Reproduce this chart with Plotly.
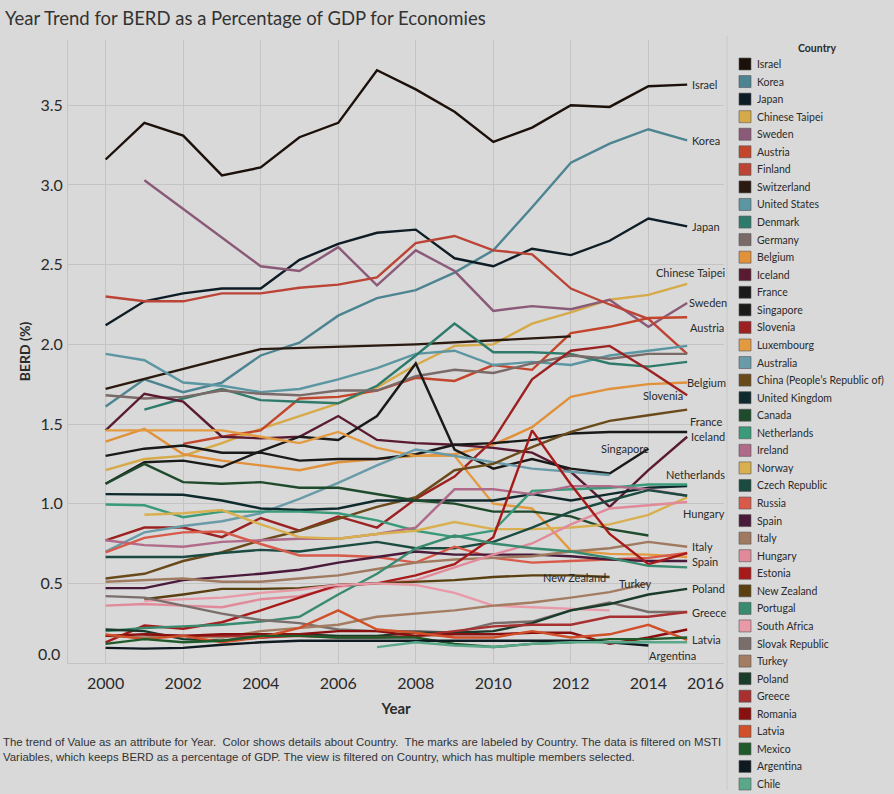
import plotly.graph_objects as go

N = None
years = list(range(2000, 2016))

israel      = [3.16, 3.39, 3.31, 3.06, 3.11, 3.30, 3.39, 3.72, 3.60, 3.46, 3.27, 3.36, 3.50, 3.49, 3.62, 3.63]
korea       = [1.61, 1.78, 1.70, 1.76, 1.93, 2.01, 2.18, 2.29, 2.34, 2.45, 2.59, 2.86, 3.14, 3.26, 3.35, 3.28]
japan       = [2.12, 2.27, 2.32, 2.35, 2.35, 2.53, 2.63, 2.70, 2.72, 2.54, 2.49, 2.60, 2.56, 2.65, 2.79, 2.74]
taipei      = [1.21, 1.28, 1.30, 1.38, 1.47, 1.55, 1.63, 1.73, 1.87, 1.99, 2.00, 2.13, 2.20, 2.28, 2.31, 2.38]
sweden      = [N, 3.03, 2.85, 2.67, 2.49, 2.46, 2.61, 2.37, 2.59, 2.46, 2.21, 2.24, 2.22, 2.28, 2.11, 2.26]
austria     = [N, N, 1.375, 1.42, 1.46, 1.66, 1.67, 1.71, 1.79, 1.77, 1.87, 1.84, 2.07, 2.11, 2.165, 2.17]
finland     = [2.30, 2.27, 2.27, 2.32, 2.32, 2.355, 2.375, 2.42, 2.635, 2.68, 2.59, 2.565, 2.35, 2.25, 2.16, 1.94]
switzerland = [1.72, N, N, N, 1.97, N, N, N, 2.00, N, N, N, 2.05, N, N, N]
usa         = [1.94, 1.90, 1.76, 1.74, 1.70, 1.72, 1.78, 1.85, 1.94, 1.96, 1.87, 1.89, 1.87, 1.93, 1.96, 1.99]
denmark     = [N, 1.59, 1.66, 1.72, 1.65, 1.64, 1.63, 1.74, 1.93, 2.13, 1.95, 1.95, 1.94, 1.88, 1.86, 1.89]
germany     = [1.68, 1.66, 1.67, 1.71, 1.69, 1.68, 1.71, 1.71, 1.80, 1.84, 1.82, 1.88, 1.93, 1.91, 1.94, 1.94]
belgium     = [1.39, 1.47, 1.31, 1.27, 1.24, 1.21, 1.26, 1.28, 1.30, 1.31, 1.37, 1.48, 1.67, 1.72, 1.75, 1.76]
iceland     = [1.46, 1.69, 1.64, 1.42, 1.41, 1.42, 1.55, 1.40, 1.38, 1.37, 1.35, 1.32, 1.20, 0.98, 1.21, 1.42]
france      = [1.30, 1.345, 1.365, 1.32, 1.32, 1.27, 1.28, 1.28, 1.31, 1.37, 1.38, 1.40, 1.44, 1.45, 1.45, 1.45]
singapore   = [1.125, 1.26, 1.27, 1.23, 1.33, 1.42, 1.40, 1.55, 1.88, 1.34, 1.22, 1.28, 1.22, 1.19, 1.345, N]
slovenia    = [0.77, 0.85, 0.85, 0.79, 0.91, 0.83, 0.92, 0.85, 1.03, 1.17, 1.40, 1.78, 1.96, 1.99, 1.84, 1.68]
luxembourg  = [1.46, 1.46, 1.46, 1.46, 1.42, 1.38, 1.45, 1.35, 1.30, 1.30, 1.00, 0.97, 0.705, 0.685, 0.68, 0.665]
australia   = [0.70, 0.82, 0.86, 0.89, 0.94, 1.03, 1.13, 1.24, 1.34, 1.30, 1.26, 1.22, 1.20, 1.18, N, N]
china       = [0.53, 0.56, 0.64, 0.695, 0.77, 0.83, 0.905, 0.98, 1.04, 1.21, 1.25, 1.355, 1.45, 1.52, 1.555, 1.59]
uk          = [1.06, 1.06, 1.056, 1.02, 0.97, 0.96, 0.97, 1.02, 1.02, 1.02, 1.02, 1.06, 1.02, 1.06, 1.10, 1.11]
canada      = [1.125, 1.25, 1.135, 1.125, 1.135, 1.10, 1.10, 1.06, 1.02, 1.00, 0.95, 0.95, 0.92, 0.84, 0.80, N]
netherlands = [0.995, 0.99, 0.915, 0.95, 0.95, 0.95, 0.94, 0.895, 0.83, 0.79, 0.83, 1.08, 1.09, 1.10, 1.12, 1.12]
ireland     = [0.77, 0.74, 0.73, 0.76, 0.77, 0.78, 0.78, 0.81, 0.85, 1.09, 1.09, 1.06, 1.11, 1.11, 1.09, 1.05]
norway      = [N, 0.93, 0.94, 0.96, 0.87, 0.79, 0.78, 0.81, 0.83, 0.885, 0.84, 0.84, 0.85, 0.87, 0.93, 1.04]
czech       = [0.665, 0.665, 0.665, 0.69, 0.71, 0.70, 0.73, 0.76, 0.72, 0.72, 0.76, 0.85, 0.95, 1.02, 1.085, 1.05]
russia      = [0.695, 0.785, 0.82, 0.825, 0.747, 0.675, 0.675, 0.665, 0.63, 0.73, 0.66, 0.63, 0.64, 0.65, 0.66, 0.69]
spain       = [0.47, 0.47, 0.52, 0.54, 0.56, 0.585, 0.63, 0.665, 0.70, 0.68, 0.68, 0.68, 0.67, 0.65, 0.64, 0.64]
italy       = [0.51, 0.52, 0.53, 0.51, 0.51, 0.53, 0.55, 0.59, 0.63, 0.65, 0.66, 0.67, 0.70, 0.72, 0.76, 0.73]
hungary     = [0.36, 0.37, 0.36, 0.35, 0.40, 0.42, 0.48, 0.50, 0.52, 0.60, 0.68, 0.75, 0.87, 0.97, 0.99, 1.01]
estonia     = [0.13, 0.235, 0.215, 0.256, 0.33, 0.41, 0.49, 0.50, 0.55, 0.62, 0.79, 1.46, 1.12, 0.81, 0.62, 0.69]
new_zealand = [N, 0.40, 0.43, 0.465, 0.465, 0.47, 0.49, 0.50, 0.51, 0.52, 0.54, 0.55, 0.55, 0.54, N, N]
portugal    = [0.20, 0.22, 0.23, 0.24, 0.26, 0.29, 0.43, 0.56, 0.72, 0.80, 0.75, 0.72, 0.70, 0.66, 0.61, 0.60]
south_africa= [N, 0.39, 0.40, 0.41, 0.44, 0.46, 0.49, 0.50, 0.49, 0.44, 0.36, 0.35, 0.34, 0.33, N, N]
slovakia    = [0.42, 0.41, 0.36, 0.31, 0.27, 0.25, 0.21, 0.20, 0.20, 0.19, 0.25, 0.26, 0.33, 0.38, 0.32, 0.32]
turkey      = [0.17, 0.16, 0.17, 0.16, 0.20, 0.22, 0.24, 0.29, 0.31, 0.33, 0.36, 0.38, 0.41, 0.445, 0.50, N]
poland      = [0.21, 0.20, 0.15, 0.14, 0.16, 0.18, 0.17, 0.17, 0.19, 0.19, 0.20, 0.25, 0.33, 0.37, 0.43, 0.465]
greece      = [N, 0.18, 0.17, 0.17, 0.16, 0.17, 0.16, 0.16, 0.17, 0.20, 0.23, 0.24, 0.24, 0.29, 0.29, 0.32]
romania     = [0.17, 0.18, 0.17, 0.18, 0.18, 0.18, 0.20, 0.20, 0.17, 0.18, 0.18, 0.19, 0.19, 0.12, 0.16, 0.21]
latvia      = [0.18, 0.15, 0.17, 0.13, 0.16, 0.22, 0.33, 0.21, 0.19, 0.16, 0.16, 0.20, 0.16, 0.18, 0.24, 0.145]
mexico      = [0.12, 0.15, 0.13, 0.14, 0.17, 0.17, 0.16, 0.16, 0.16, 0.12, 0.10, 0.12, 0.13, 0.15, 0.15, 0.16]
argentina   = [0.095, 0.09, 0.095, 0.115, 0.13, 0.14, 0.14, 0.14, 0.14, 0.14, 0.14, 0.14, 0.14, 0.13, 0.11, N]
chile       = [N, N, N, N, N, N, N, 0.10, 0.13, 0.11, 0.10, 0.12, 0.13, 0.13, 0.13, 0.13]

countries = ["Israel", "Korea", "Japan", "Chinese Taipei", "Sweden", "Austria", "Finland",
             "Switzerland", "United States", "Denmark", "Germany", "Belgium", "Iceland", "France",
             "Singapore", "Slovenia", "Luxembourg", "Australia", "China (People\u2019s Republic of)",
             "United Kingdom", "Canada", "Netherlands", "Ireland", "Norway", "Czech Republic",
             "Russia", "Spain", "Italy", "Hungary", "Estonia", "New Zealand", "Portugal",
             "South Africa", "Slovak Republic", "Turkey", "Poland", "Greece", "Romania", "Latvia",
             "Mexico", "Argentina", "Chile"]
series = [israel, korea, japan, taipei, sweden, austria, finland, switzerland, usa, denmark,
          germany, belgium, iceland, france, singapore, slovenia, luxembourg, australia, china,
          uk, canada, netherlands, ireland, norway, czech, russia, spain, italy, hungary, estonia,
          new_zealand, portugal, south_africa, slovakia, turkey, poland, greece, romania, latvia,
          mexico, argentina, chile]
colors = ["#1c100b", "#4d8491", "#0e1c26", "#d6aa48", "#8a5a78", "#c2452c", "#bb4436",
          "#2a1a10", "#5b96a2", "#2f7b6b", "#7a6a68", "#e0913a", "#5a1b32", "#191919",
          "#1a1a18", "#9c2222", "#e49a40", "#6a9ba8", "#6a4a1a", "#0f2a2c", "#1f4a2c",
          "#3a9a7a", "#b06a8a", "#d8b050", "#1b4a40", "#d85a4a", "#4a1a3a", "#a07a60",
          "#e08a9a", "#a81a1a", "#5a4010", "#3a8a70", "#e89aa8", "#7a6e6a", "#a47c62",
          "#1a3a2a", "#a83030", "#8a1010", "#d0502a", "#1f5a2a", "#0f1a20", "#5aa88a"]

# end-of-line labels: country -> (xanchor, xshift, yshift)
end_labels = {
    "Israel": ("left", 3, 0), "Korea": ("left", 3, 0), "Japan": ("left", 3, 0),
    "Chinese Taipei": ("center", 3, 11), "Sweden": ("left", 0, 0), "Austria": ("left", 1, -10),
    "Belgium": ("left", -2, 0), "Slovenia": ("right", -2, 0), "France": ("left", 1, 10),
    "Iceland": ("left", 2, 0), "Singapore": ("right", 3, 0), "Netherlands": ("center", 8, 10),
    "Hungary": ("center", 17, -11), "Italy": ("left", 3, 0), "Spain": ("left", 3, 0),
    "New Zealand": ("right", -2, -1), "Turkey": ("right", 5, 0), "Poland": ("left", 3, 0),
    "Greece": ("left", 3, 0), "Latvia": ("left", 3, 0), "Argentina": ("left", -1, -10),
}

W, H = 894, 794
L, R, T, B = 68, 170, 40, 131
PW, PH = W - L - R, H - T - B
def pxx(px):
    return (px - L) / PW
def pxy(py):
    return (H - B - py) / PH

BG = "#d9d9d9"
FONT = "Lato"
TXT = "#2a2a2a"

fig = go.Figure()
for name, vals, col in zip(countries, series, colors):
    fig.add_trace(go.Scatter(x=years, y=vals, mode="lines", name=name, connectgaps=True,
                             line=dict(color=col, width=2.4), showlegend=False))

annotations = []
for name, vals in zip(countries, series):
    if name not in end_labels:
        continue
    xa, xs, ys = end_labels[name]
    idx = max(i for i, v in enumerate(vals) if v is not None)
    annotations.append(dict(x=years[idx], y=vals[idx], xref="x", yref="y", text=name,
                            showarrow=False, xanchor=xa, yanchor="middle", xshift=xs, yshift=ys,
                            font=dict(family=FONT, size=11, color=TXT)))

# edge tick labels (shifted inside the axis like the original)
annotations.append(dict(x=0, y=0, xref="paper", yref="y", text="0.0", showarrow=False,
                        xanchor="right", yanchor="middle", xshift=-6, yshift=10,
                        font=dict(family=FONT, size=16, color=TXT)))
annotations.append(dict(x=1, y=0, xref="paper", yref="paper", text="2016", showarrow=False,
                        xanchor="right", yanchor="top", xshift=2, yshift=-8,
                        font=dict(family=FONT, size=16, color=TXT)))

# title and caption
annotations.append(dict(x=pxx(3), y=pxy(18), xref="paper", yref="paper",
                        text="Year Trend for BERD as a Percentage of GDP for Economies",
                        showarrow=False, xanchor="left", yanchor="middle",
                        font=dict(family=FONT, size=18.5, color="#333333")))
caption = ("The trend of Value as an attribute for Year.  Color shows details about Country.  "
           "The marks are labeled by Country. The data is filtered on MSTI<br>"
           "Variables, which keeps BERD as a percentage of GDP. The view is filtered on Country, "
           "which has multiple members selected.")
annotations.append(dict(x=pxx(1), y=pxy(734), xref="paper", yref="paper", text=caption,
                        showarrow=False, xanchor="left", yanchor="top", align="left",
                        font=dict(family="Liberation Sans", size=11.4, color="#333333")))

# custom legend
shapes = []
annotations.append(dict(x=pxx(817), y=pxy(48), xref="paper", yref="paper", text="<b>Country</b>",
                        showarrow=False, xanchor="center", yanchor="middle",
                        font=dict(family=FONT, size=10.5, color=TXT)))
step = (784 - 64) / (len(countries) - 1)
for i, (name, col) in enumerate(zip(countries, colors)):
    cy = 64 + i * step
    shapes.append(dict(type="rect", xref="paper", yref="paper",
                       x0=pxx(739), x1=pxx(751), y0=pxy(cy + 6), y1=pxy(cy - 6),
                       fillcolor=col, line=dict(color="#555555", width=0.6), layer="above"))
    annotations.append(dict(x=pxx(755), y=pxy(cy), xref="paper", yref="paper", text=name,
                            showarrow=False, xanchor="left", yanchor="middle",
                            font=dict(family=FONT, size=10.5, color=TXT)))
shapes.append(dict(type="line", xref="paper", yref="paper", x0=pxx(727), x1=pxx(727),
                   y0=pxy(790), y1=pxy(36), line=dict(color="#c8c8c8", width=1)))

fig.update_layout(
    width=W, height=H,
    margin=dict(l=L, r=R, t=T, b=B, autoexpand=False),
    paper_bgcolor=BG, plot_bgcolor=BG,
    font=dict(family=FONT, color=TXT),
    annotations=annotations, shapes=shapes,
    showlegend=False,
)
fig.update_xaxes(range=[1999.03, 2015.95], tickvals=list(range(2000, 2015, 2)),
                 showgrid=True, gridcolor="#c4c4c4", gridwidth=1, zeroline=False,
                 showline=True, linecolor="#c4c4c4", ticks="", ticklabelstandoff=6,
                 tickfont=dict(family=FONT, size=16, color=TXT),
                 title=dict(text="<b>Year</b>", standoff=12, font=dict(family=FONT, size=15, color=TXT)))
fig.update_yaxes(range=[0, 3.91], tickvals=[0.5, 1.0, 1.5, 2.0, 2.5, 3.0, 3.5],
                 tickformat=".1f",
                 showgrid=True, gridcolor="#c4c4c4", gridwidth=1, zeroline=False,
                 showline=True, linecolor="#c4c4c4", ticks="", ticklabelstandoff=1,
                 tickfont=dict(family=FONT, size=16, color=TXT),
                 title=dict(text="<b>BERD (%)</b>", standoff=6, font=dict(family=FONT, size=14, color=TXT)))

fig.write_html("out.html", config={"displayModeBar": False},
               post_script="document.body.style.margin='0';document.body.style.background='" + BG + "';")
